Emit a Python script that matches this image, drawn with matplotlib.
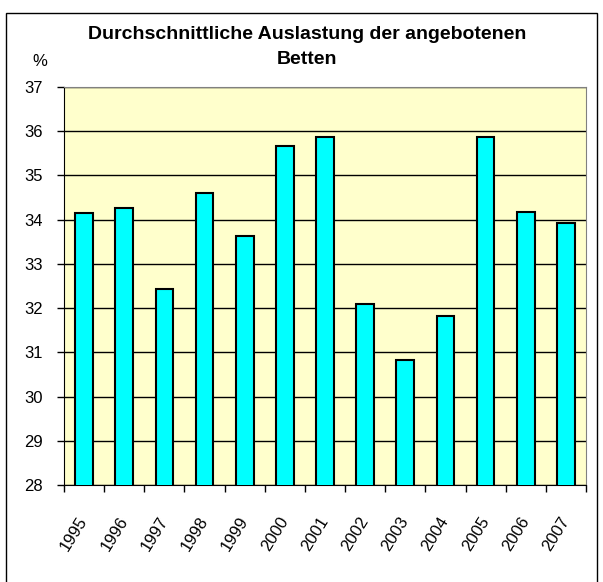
import matplotlib
matplotlib.use("Agg")
import matplotlib.pyplot as plt
from matplotlib.patches import Rectangle
from matplotlib import font_manager

years = ["1995", "1996", "1997", "1998", "1999", "2000", "2001",
         "2002", "2003", "2004", "2005", "2006", "2007"]
values = [34.14, 34.27, 32.43, 34.61, 33.62, 35.66, 35.87,
          32.09, 30.83, 31.83, 35.87, 34.17, 33.92]
yticks = [28, 29, 30, 31, 32, 33, 34, 35, 36, 37]
title = "Durchschnittliche Auslastung der angebotenen\nBetten"

names = {f.name for f in font_manager.fontManager.ttflist}
fam = ["Liberation Sans Narrow"] if "Liberation Sans Narrow" in names else ["Liberation Sans"]
plt.rcParams["font.family"] = fam + ["DejaVu Sans"]

fig = plt.figure(figsize=(6.03, 5.82), dpi=100)
ax = fig.add_axes([64/603, 1 - 485/582, (586-64)/603, (485-87)/582])
ax.set_facecolor("#FFFFCC")

x = list(range(len(years)))
ax.bar(x, values, width=0.44, bottom=0, color="#00FFFF", edgecolor="black",
       linewidth=1.5, zorder=3)
ax.set_ylim(28, 37)
ax.set_xlim(-0.5, len(years) - 0.5)
ax.set_yticks(yticks)
ax.set_yticklabels([str(v) for v in yticks], fontsize=12)
ax.yaxis.grid(True, color="black", linewidth=1, zorder=1)
ax.set_axisbelow(True)

ax.set_xticks([i - 0.5 for i in range(len(years) + 1)])
ax.set_xticklabels([])
ax.set_xticks(x, minor=True)
ax.set_xticklabels(years, minor=True, rotation=58, ha="right", va="center",
                   rotation_mode="anchor", fontsize=12)
ax.tick_params(axis="x", which="minor", length=0, pad=24)
ax.tick_params(axis="x", which="major", length=5, direction="out", width=1)
ax.tick_params(axis="y", length=5, direction="out", width=1, pad=10)

for s in ["top", "right"]:
    ax.spines[s].set_color("#808080")
for s in ["left", "bottom"]:
    ax.spines[s].set_color("black")

fig.text(307/603, 1 - 47/582, title, ha="center", va="center",
         fontsize=14, fontweight="bold", linespacing=1.6)
fig.text(40/603, 1 - 61/582, "%", ha="center", va="center", fontsize=12)

fig.patches.append(Rectangle((6/603, -0.02), (597-6)/603, 0.02 + 1 - 13/582,
                             transform=fig.transFigure, fill=False,
                             edgecolor="black", linewidth=1))

fig.savefig("out.png", dpi=100)
